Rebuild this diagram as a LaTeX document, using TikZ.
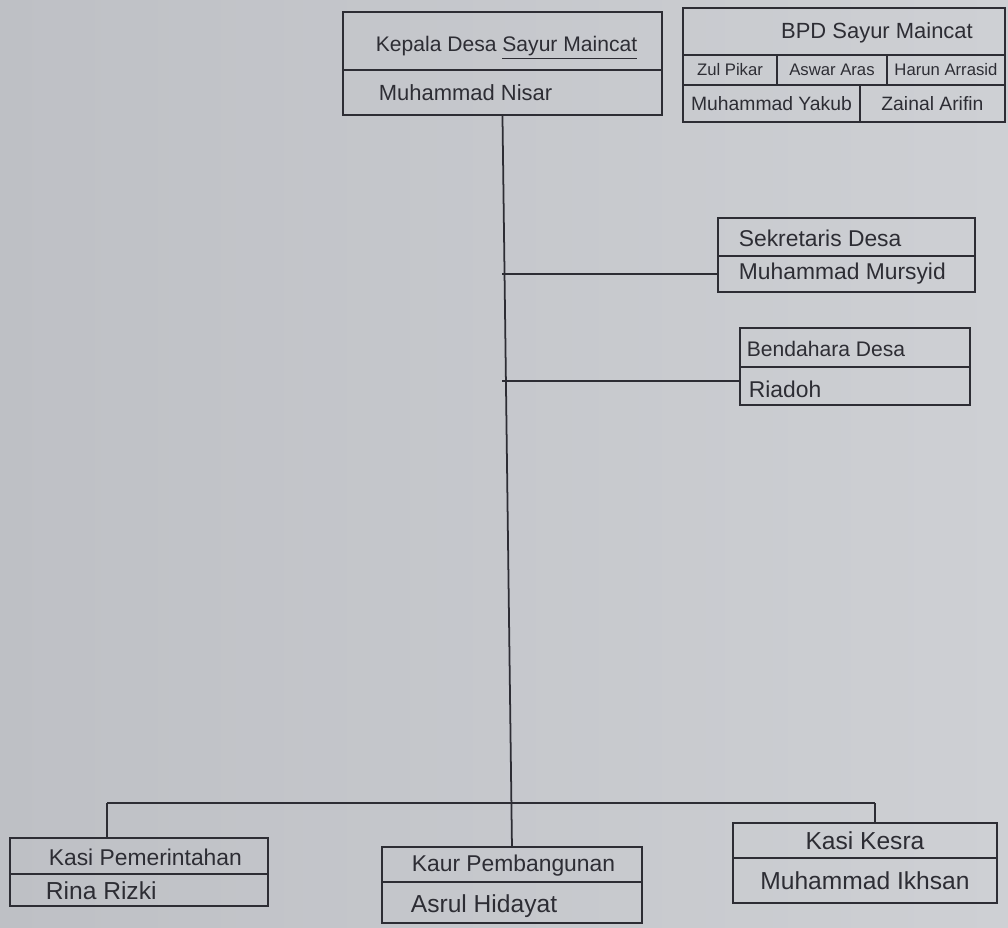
\documentclass[tikz,border=0pt]{standalone}
\usepackage{fontspec}
\setmainfont{Liberation Sans}
\usetikzlibrary{positioning}
\definecolor{paperL}{RGB}{190,192,197}
\definecolor{paperR}{RGB}{206,208,212}
\definecolor{ink}{RGB}{45,45,52}
\begin{document}
\begin{tikzpicture}[
  x=0.02cm, y=-0.02cm,
  line width=1pt,
  cellbox/.style={draw=ink, inner sep=1pt, outer sep=0pt, text=ink},
  hand/.style={text=ink, inner sep=0pt, font=\fontsize{#1}{#1}\selectfont},
  hand/.default=13]
\shade[left color=paperL, right color=paperR] (0,0) rectangle (1008,927);
\useasboundingbox (0,0) rectangle (1008,927);

% kepala desa
\node[cellbox, anchor=north west, minimum width=6.38cm, minimum height=1.16cm] (kepala) at (343,12) {};
\node[cellbox, below=0pt of kepala, minimum width=6.38cm, minimum height=0.9cm] (kepalaNama) {};
\node[hand=12, anchor=west] (kepalaJudul) at (375,48) {Kepala Desa \underline{Sayur Maincat}};
\node[hand=12.5, anchor=west] (kepalaTeks) at (378,93) {Muhammad Nisar};

% BPD
\node[cellbox, anchor=north west, minimum width=6.44cm, minimum height=0.94cm] (bpd) at (683,8) {};
\node[hand=12.5] (bpdJudul) at (877,33) {BPD Sayur Maincat};
\node[cellbox, hand=9.5, anchor=north west, minimum width=1.88cm, minimum height=0.6cm] (zul) at (683,55) {Zul Pikar};
\node[cellbox, hand=9.5, right=0pt of zul, minimum width=2.2cm, minimum height=0.6cm] (aswar) {Aswar Aras};
\node[cellbox, hand=9.5, right=0pt of aswar, minimum width=2.36cm, minimum height=0.6cm] (harun) {Harun Arrasid};
\node[cellbox, hand=11, anchor=north west, minimum width=3.54cm, minimum height=0.74cm] (yakub) at (683,85) {Muhammad Yakub};
\node[cellbox, hand=11, right=0pt of yakub, minimum width=2.9cm, minimum height=0.74cm] (zainal) {Zainal Arifin};

% sekretaris
\node[cellbox, anchor=north west, minimum width=5.14cm, minimum height=0.76cm] (sek) at (718,218) {};
\node[cellbox, below=0pt of sek, minimum width=5.14cm, minimum height=0.72cm] (sekNama) {};
\node[hand, anchor=west] (sekJudul) at (738,238) {Sekretaris Desa};
\node[hand, anchor=west] (sekTeks) at (738,274) {Muhammad Mursyid};

% bendahara
\node[cellbox, anchor=north west, minimum width=4.6cm, minimum height=0.78cm] (ben) at (740,328) {};
\node[cellbox, below=0pt of ben, minimum width=4.6cm, minimum height=0.76cm] (benNama) {};
\node[hand=12, anchor=west] (benJudul) at (746,349) {Bendahara Desa};
\node[hand, anchor=west] (benTeks) at (748,389) {Riadoh};

% kasi pemerintahan
\node[cellbox, anchor=north west, minimum width=5.16cm, minimum height=0.72cm] (kasi) at (10,838) {};
\node[cellbox, below=0pt of kasi, minimum width=5.16cm, minimum height=0.64cm] (kasiNama) {};
\node[hand, anchor=west] (kasiJudul) at (48,857) {Kasi Pemerintahan};
\node[hand=14, anchor=west] (kasiTeks) at (45,891) {Rina Rizki};

% kaur pembangunan
\node[cellbox, anchor=north west, minimum width=5.2cm, minimum height=0.7cm] (kaur) at (382,847) {};
\node[cellbox, below=0pt of kaur, minimum width=5.2cm, minimum height=0.82cm] (kaurNama) {};
\node[hand, anchor=west] (kaurJudul) at (411,866) {Kaur Pembangunan};
\node[hand=14, anchor=west] (kaurTeks) at (410,906) {Asrul Hidayat};

% kasi kesra
\node[cellbox, hand=14, anchor=north west, minimum width=5.28cm, minimum height=0.7cm] (kesra) at (733,823) {Kasi Kesra};
\node[cellbox, hand=14, below=0pt of kesra, minimum width=5.28cm, minimum height=0.9cm] (kesraNama) {Muhammad Ikhsan};

% garis
\draw[ink] (kepalaNama.south) -- (kaur.north);
\draw[ink] (sekNama.west) -- (sekNama.west -| kepalaNama.south);
\coordinate (benKiri) at ([yshift=-8pt]ben.south west);
\draw[ink] (benKiri) -- (benKiri -| kepalaNama.south);
\coordinate (barW) at (107,803);
\coordinate (barE) at (875,803);
\draw[ink] (barW) -- (barE);
\draw[ink] (barW) -- (barW |- kasi.north);
\draw[ink] (barE) -- (barE |- kesra.north);
\end{tikzpicture}
\end{document}
